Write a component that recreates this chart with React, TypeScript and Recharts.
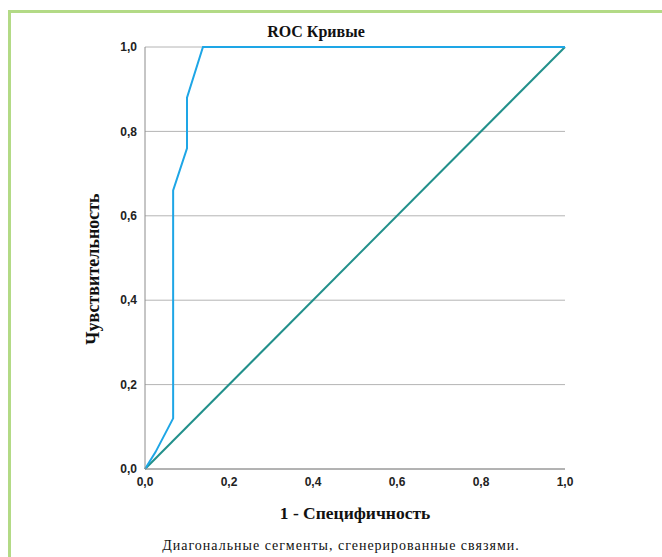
import { LineChart, Line, XAxis, YAxis, CartesianGrid } from 'recharts'

// ROC curve points (1 - specificity, sensitivity)
const rocX = [0, 0.025, 0.067, 0.067, 0.1, 0.1, 0.138, 1]
const rocY = [0, 0.04, 0.12, 0.66, 0.76, 0.88, 1, 1]

// reference diagonal
const diagX = [0, 1]
const diagY = [0, 1]

const ticks = [0, 0.2, 0.4, 0.6, 0.8, 1]

const rocData = rocX.map((x, i) => ({ x, y: rocY[i] }))
const diagData = diagX.map((x, i) => ({ x, y: diagY[i] }))

const fmt = (v: number) => v.toFixed(1).replace('.', ',')

const serif = '"Liberation Serif", "DejaVu Serif", serif'
const sans = '"Liberation Sans", Arial, sans-serif'

export default function App() {
  return (
    <div
      style={{
        position: 'absolute',
        left: 0,
        top: 0,
        width: 662,
        height: 557,
        background: '#fff',
        overflow: 'hidden',
      }}
    >
      <div
        style={{
          position: 'absolute',
          left: 8,
          top: 10,
          width: 662,
          height: 557,
          borderTop: '3px solid #b3da86',
          borderLeft: '3px solid #b3da86',
        }}
      />
      <LineChart
        width={662}
        height={557}
        margin={{ top: 47, right: 97, left: 85, bottom: 58 }}
        style={{ position: 'absolute', left: 0, top: 0 }}
      >
        <CartesianGrid vertical={false} stroke="#b4b4b4" />
        <XAxis
          dataKey="x"
          type="number"
          domain={[0, 1]}
          ticks={ticks}
          tickFormatter={fmt}
          tickLine={false}
          axisLine={{ stroke: '#8c8c8c' }}
          height={30}
          tick={{ fill: '#222', fontFamily: sans, fontSize: 12, fontWeight: 'bold' }}
          allowDuplicatedCategory={false}
        />
        <YAxis
          dataKey="y"
          type="number"
          domain={[0, 1]}
          ticks={ticks}
          tickFormatter={fmt}
          tickLine={false}
          axisLine={{ stroke: '#8c8c8c' }}
          width={60}
          tick={{ fill: '#222', fontFamily: sans, fontSize: 12, fontWeight: 'bold' }}
        />
        <Line
          data={diagData}
          dataKey="y"
          type="linear"
          stroke="#22908b"
          strokeWidth={2}
          dot={false}
          isAnimationActive={false}
        />
        <Line
          data={rocData}
          dataKey="y"
          type="linear"
          stroke="#1ea6e6"
          strokeWidth={2}
          dot={false}
          isAnimationActive={false}
        />
      </LineChart>
      <div
        style={{
          position: 'absolute',
          left: 216,
          top: 23,
          width: 200,
          textAlign: 'center',
          fontFamily: serif,
          fontWeight: 'bold',
          fontSize: 16,
          color: '#111',
        }}
      >
        ROC Кривые
      </div>
      <div
        style={{
          position: 'absolute',
          left: 93,
          top: 269,
          transform: 'translate(-50%, -50%) rotate(-90deg)',
          whiteSpace: 'nowrap',
          fontFamily: serif,
          fontWeight: 'bold',
          fontSize: 18,
          color: '#111',
        }}
      >
        Чувствительность
      </div>
      <div
        style={{
          position: 'absolute',
          left: 205,
          top: 503,
          width: 300,
          textAlign: 'center',
          fontFamily: serif,
          fontWeight: 'bold',
          fontSize: 17.5,
          color: '#111',
        }}
      >
        1 - Специфичность
      </div>
      <div
        style={{
          position: 'absolute',
          left: 91,
          top: 538,
          width: 500,
          textAlign: 'center',
          fontFamily: serif,
          fontSize: 14,
          letterSpacing: 1,
          color: '#111',
        }}
      >
        Диагональные сегменты, сгенерированные связями.
      </div>
    </div>
  )
}
